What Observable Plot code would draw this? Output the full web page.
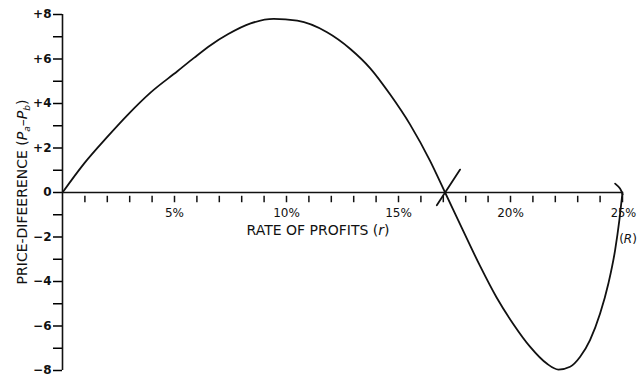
<!DOCTYPE html>
<html><head><meta charset="utf-8">
<script src="https://cdn.jsdelivr.net/npm/d3@7"></script>
<script src="https://cdn.jsdelivr.net/npm/@observablehq/plot@0.6"></script>
<style>
body{margin:0;background:#fff}
svg{font-family:"DejaVu Sans",sans-serif}
</style>
</head><body><div id="chart"></div>
<script>
// Rate of profits (%) and price difference
const curveRate = [0, 0.97, 2.01, 2.9, 3.94, 5.13, 5.87, 6.61, 7.4, 8.4, 9.43, 10.48, 11.81, 12.85, 13.74, 14.63, 15.52, 16.41, 17.08, 17.9, 18.64, 19.38, 20.13, 20.87, 21.62, 22.14, 22.66, 23.11, 23.55, 24.0, 24.37, 24.67, 24.86, 25.0];
const curveDiff = [0, 1.31, 2.51, 3.48, 4.5, 5.45, 6.05, 6.62, 7.12, 7.6, 7.8, 7.72, 7.2, 6.45, 5.58, 4.4, 3.05, 1.42, 0, -1.75, -3.3, -4.72, -5.92, -6.93, -7.69, -7.96, -7.83, -7.38, -6.63, -5.44, -4.09, -2.59, -1.24, 0];
const crossRate = [17.75, 16.71];
const crossDiff = [1.03, -0.57];
const endRate = [24.67, 24.89, 25.01];
const endDiff = [0.4, 0.18, -0.1];
const yTicks = d3.range(-8, 9);
const xTicks = d3.range(1, 26);
const xLabelValues = [5, 10, 15, 20];
const xLabelText = ["5%", "10%", "15%", "20%"];
const lastLabel = "25%";
const rLabel = "R";
const xTitle = "RATE OF PROFITS (";
const yTitle = "PRICE-DIFEERENCE (";

const curve = curveRate.map((r, i) => ({r, v: curveDiff[i]}));
const cross = crossRate.map((r, i) => ({r, v: crossDiff[i]}));
const endMark = endRate.map((r, i) => ({r, v: endDiff[i]}));
const xLabels = xLabelValues.map((r, i) => ({r, t: xLabelText[i]}));

const plot = Plot.plot({
  width: 638, height: 381,
  marginLeft: 62, marginRight: 16, marginTop: 14, marginBottom: 11,
  x: {domain: [0, 25], axis: null},
  y: {domain: [-8, 8]},
  marks: [
    Plot.axisY({ticks: yTicks, tickSize: 9, tickPadding: 2, label: null,
      tickFormat: d => d % 2 ? "" : d > 0 ? "+" + d : d < 0 ? "\u2212" + (-d) : "0",
      fontSize: 12, fontWeight: "bold", strokeWidth: 1.5, fill: "#111"}),
    Plot.ruleX([0], {strokeWidth: 1.6, stroke: "#111"}),
    Plot.ruleY([0], {strokeWidth: 1.6, stroke: "#111"}),
    Plot.ruleX(xTicks, {x: d => d, y1: -0.17, y2: -0.46, strokeWidth: 1.5, stroke: "#111"}),
    Plot.text(xLabels, {x: "r", y: 0, text: "t", dy: 21, fontSize: 12, fill: "#111"}),
    Plot.text([lastLabel], {x: 25, y: 0, text: d => d, dy: 21, dx: 1, fontSize: 11.5, fill: "#111"}),
    Plot.line(curve, {x: "r", y: "v", curve: "monotone-x", strokeWidth: 1.8, stroke: "#111"}),
    Plot.line(cross, {x: "r", y: "v", strokeWidth: 1.8, stroke: "#111"}),
    Plot.line(endMark, {x: "r", y: "v", curve: "catmull-rom", strokeWidth: 1.8, stroke: "#111"})
  ]
});

const svg = d3.select(plot);
const ys = plot.scale("y"), xs = plot.scale("x");
// (R) under 25%
const rt = svg.append("text")
  .attr("x", xs.apply(25) + 6).attr("y", ys.apply(0) + 47).attr("dy", "0.35em")
  .attr("text-anchor", "middle").attr("font-size", 12).attr("fill", "#111");
rt.append("tspan").text("(");
rt.append("tspan").attr("font-style", "italic").text(rLabel);
rt.append("tspan").text(")");
// x title
const xt = svg.append("text")
  .attr("x", 318).attr("y", ys.apply(0) + 38).attr("dy", "0.35em")
  .attr("text-anchor", "middle").attr("font-size", 14).attr("fill", "#111");
xt.append("tspan").text(xTitle);
xt.append("tspan").attr("font-style", "italic").text("r");
xt.append("tspan").text(")");
// y title
const yt = svg.append("text")
  .attr("transform", `translate(22,${ys.apply(0)}) rotate(-90)`).attr("dy", "0.35em")
  .attr("text-anchor", "middle").attr("font-size", 14).attr("fill", "#111");
yt.append("tspan").text(yTitle);
yt.append("tspan").attr("font-style", "italic").text("P");
yt.append("tspan").attr("font-size", 9).attr("dy", 3).attr("font-style", "italic").text("a");
yt.append("tspan").attr("dy", -3).text("\u2013");
yt.append("tspan").attr("font-style", "italic").text("P");
yt.append("tspan").attr("font-size", 9).attr("dy", 3).attr("font-style", "italic").text("b");
yt.append("tspan").attr("dy", -3).text(")");

document.getElementById("chart").append(plot);
</script>
</body></html>
